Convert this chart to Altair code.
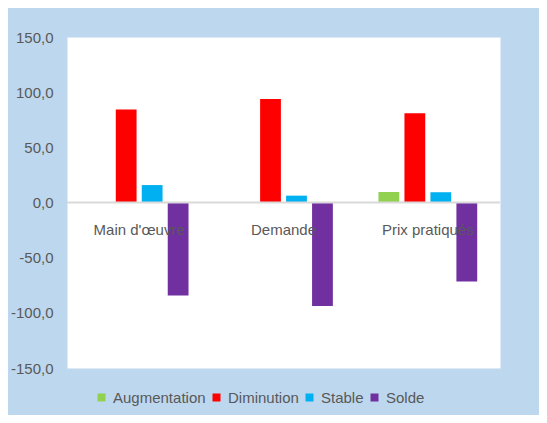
import altair as alt
import pandas as pd

categories = ["Main d'œuvre", "Demande", "Prix pratiqués"]
series = ["Augmentation", "Diminution", "Stable", "Solde"]
augmentation = [0.0, 0.0, 9.5]
diminution = [84.2, 93.8, 81.0]
stable = [15.8, 6.2, 9.3]
solde = [-84.2, -93.8, -71.5]
colors = ["#92D050", "#FF0000", "#00B0F0", "#7030A0"]
y_ticks = [-150, -100, -50, 0, 50, 100, 150]

FONT = "Liberation Sans, Arial, sans-serif"
TEXT_COLOR = "#595959"

rows = []
for i, c in enumerate(categories):
    for s, vals in zip(series, [augmentation, diminution, stable, solde]):
        rows.append({"categorie": c, "serie": s, "valeur": vals[i]})
df = pd.DataFrame(rows)
cat_df = pd.DataFrame({"categorie": categories})
zero_df = pd.DataFrame({"zero": [0]})

label_expr = "(datum.value < 0 ? '-' : '') + replace(format(abs(datum.value), '.1f'), '.', ',')"

x_enc = alt.X("categorie:N", sort=categories, axis=None,
              scale=alt.Scale(paddingInner=0.28, paddingOuter=0.14))

bars = alt.Chart(df).mark_bar().encode(
    x=x_enc,
    xOffset=alt.XOffset("serie:N", sort=series,
                        scale=alt.Scale(paddingInner=0.2, paddingOuter=0.1)),
    y=alt.Y("valeur:Q",
            scale=alt.Scale(domain=[-150, 150], nice=False),
            axis=alt.Axis(values=y_ticks, labelExpr=label_expr, title=None,
                          grid=False, ticks=False, domain=False, labelPadding=14,
                          labelFontSize=15, labelColor=TEXT_COLOR, labelFont=FONT)),
    color=alt.Color("serie:N", sort=series,
                    scale=alt.Scale(domain=series, range=colors),
                    legend=alt.Legend(orient="none", legendX=27, legendY=353,
                                      direction="horizontal", title=None,
                                      symbolType="square", symbolSize=64,
                                      symbolStrokeWidth=0, labelFontSize=15,
                                      labelColor=TEXT_COLOR, labelFont=FONT,
                                      labelOffset=4, columnPadding=3,
                                      gridAlign="none",
                                      padding=0, columns=4)),
)

rule = alt.Chart(zero_df).mark_rule(color="#D9D9D9", strokeWidth=2).encode(
    y=alt.Y("zero:Q")
)

labels = alt.Chart(cat_df).mark_text(dy=27, fontSize=15, color=TEXT_COLOR,
                                     font=FONT, baseline="middle").encode(
    x=x_enc,
    y=alt.datum(0),
    text="categorie:N",
)

chart = alt.layer(bars, rule, labels).properties(
    width=433,
    height=331,
    autosize=alt.AutoSizeParams(type="none"),
    padding={"left": 59, "top": 29, "right": 39, "bottom": 47},
    background="#BDD7EE",
).configure_view(fill="white", stroke="transparent")

chart.save("out.html", embed_options={"renderer": "svg", "actions": False})
